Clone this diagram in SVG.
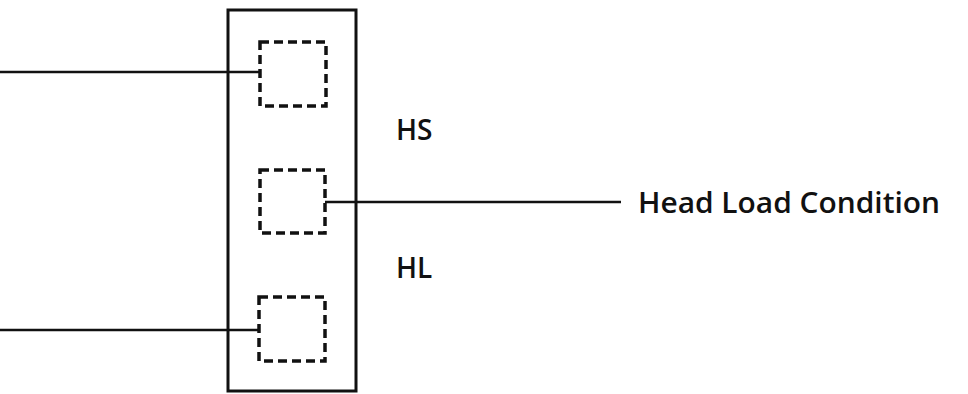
<svg xmlns="http://www.w3.org/2000/svg" width="968" height="394" viewBox="0 0 968 394">
<style>
.outer{fill:none;stroke:#111;stroke-width:3}
.dash{fill:none;stroke:#111;stroke-width:3.5;stroke-dasharray:9 5}
.wire{fill:none;stroke:#111;stroke-width:2.5}
text{font-family:"Open Sans","Noto Sans",sans-serif;font-weight:600;fill:#111;font-size:28px}
</style>
<rect width="968" height="394" fill="#fff"/>
<g id="connectors">
<line class="wire" x1="0" y1="72" x2="260" y2="72"/>
<line class="wire" x1="325" y1="202" x2="621" y2="202"/>
<line class="wire" x1="0" y1="330" x2="259" y2="330"/>
</g>
<g id="module">
<rect class="outer" x="228" y="10" width="128" height="381"/>
</g>
<g id="sw1"><rect class="dash" x="260" y="42" width="66" height="64"/></g>
<g id="sw2"><rect class="dash" x="260" y="170" width="65" height="63"/></g>
<g id="sw3"><rect class="dash" x="259" y="297" width="66" height="64"/></g>
<g id="label-hs"><text x="396" y="140">HS</text></g>
<g id="label-hl"><text x="396" y="278">HL</text></g>
<g id="label-hlc"><text x="638" y="213" textLength="302" lengthAdjust="spacingAndGlyphs">Head Load Condition</text></g>
</svg>
